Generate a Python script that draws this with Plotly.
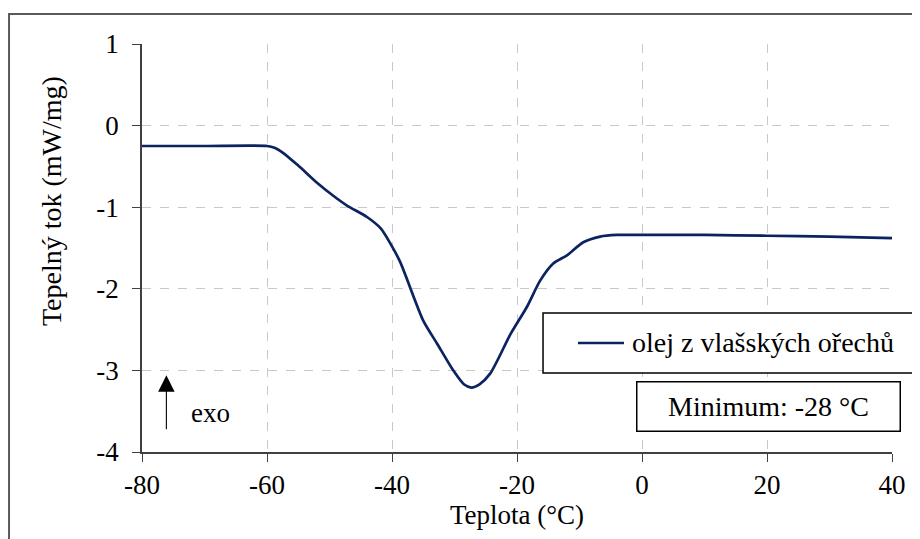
import plotly.graph_objects as go

# Data (DSC curve of walnut oil)
temperature = [-80, -70, -60, -58.8, -57.5, -55, -52, -49.4, -47.2, -44, -41.8, -40.3, -38.7,
               -35, -32.8, -30.2, -28.5, -27.3, -26, -24.3, -21, -18.4, -16.3, -14.2,
               -12, -9.4, -6.7, -4, 0, 10, 20, 30, 40]
heat_flow = [-0.25, -0.25, -0.25, -0.27, -0.33, -0.49, -0.70, -0.86, -0.98, -1.12, -1.26, -1.44, -1.67,
             -2.39, -2.67, -3.0, -3.17, -3.21, -3.17, -3.04, -2.55, -2.22, -1.90, -1.69,
             -1.59, -1.43, -1.36, -1.34, -1.34, -1.34, -1.35, -1.36, -1.38]
series_name = "olej z vlašských ořechů"
x_ticks = [-80, -60, -40, -20, 0, 20, 40]
y_ticks = [1, 0, -1, -2, -3, -4]
min_label = "Minimum: -28 °C"
x_title = "Teplota (°C)"
y_title = "Tepelný tok (mW/mg)"

FONT = "Liberation Serif, Times New Roman, serif"
FS = 27
FS_BOX = 28
LINE_COLOR = "#0B2460"

fig = go.Figure()
fig.add_trace(go.Scatter(x=temperature, y=heat_flow, mode="lines", name=series_name,
                         line=dict(color=LINE_COLOR, width=2.7, shape="spline", smoothing=0.7),
                         showlegend=False))

axis_common = dict(showline=True, linecolor="#404040", linewidth=1.5,
                   ticks="outside", ticklen=8, tickcolor="#404040", tickwidth=1.3,
                   showgrid=True, gridcolor="#C8C8C8", griddash="dash", gridwidth=1,
                   zeroline=False, tickfont=dict(family=FONT, size=FS, color="black"))

fig.update_xaxes(range=[-80, 40], tickvals=x_ticks, ticktext=[str(v) for v in x_ticks],
                 title=dict(text=x_title, font=dict(family=FONT, size=FS, color="black"), standoff=0),
                 **axis_common)
fig.update_yaxes(range=[-4, 1], tickvals=y_ticks, ticktext=[str(v) for v in y_ticks],
                 ticklabelstandoff=8, **axis_common)

# y-axis title (placed as in the reference, above the plot centre)
fig.add_annotation(xref="paper", yref="paper", x=-0.1213, y=0.615, text=y_title, textangle=-90,
                   showarrow=False, xanchor="center", yanchor="middle",
                   font=dict(family=FONT, size=28, color="black"))

# outer chart border
fig.add_shape(type="rect", xref="paper", yref="paper", x0=-0.1773, x1=1.08, y0=-0.35, y1=1.0735,
              line=dict(color="#5A5A5A", width=2), fillcolor="rgba(0,0,0,0)", layer="above")

# legend box (drawn manually)
fig.add_shape(type="rect", xref="paper", yref="paper", x0=0.5347, x1=1.08, y0=0.1936, y1=0.3407,
              line=dict(color="black", width=1.5), fillcolor="white", layer="above")
fig.add_shape(type="line", xref="paper", yref="paper", x0=0.5813, x1=0.6427, y0=0.2672, y1=0.2672,
              line=dict(color=LINE_COLOR, width=2.7), layer="above")
fig.add_annotation(xref="paper", yref="paper", x=0.6500, y=0.2672, xanchor="left", yanchor="middle",
                   text=series_name, showarrow=False, font=dict(family=FONT, size=FS_BOX, color="black"))

# minimum box
fig.add_annotation(x=20.3, y=-3.44, text=min_label, showarrow=False,
                   font=dict(family=FONT, size=FS_BOX, color="black"),
                   width=262, height=48, borderpad=0, bordercolor="black", borderwidth=1.5,
                   bgcolor="white", align="center", valign="middle")

# exo arrow
fig.add_annotation(x=-76.1, y=-3.06, ax=-76.1, ay=-3.74, axref="x", ayref="y",
                   showarrow=True, arrowhead=2, arrowsize=3, arrowwidth=1.1, arrowcolor="black", text="")
fig.add_annotation(x=-69.1, y=-3.52, text="exo", showarrow=False,
                   font=dict(family=FONT, size=FS, color="black"))

# the page body adds an 8px offset, so margins are shifted accordingly
fig.update_layout(width=920, height=539, margin=dict(l=134, r=36, t=36, b=95),
                  paper_bgcolor="white", plot_bgcolor="white",
                  font=dict(family=FONT, size=FS, color="black"))

fig.write_html("out.html")
